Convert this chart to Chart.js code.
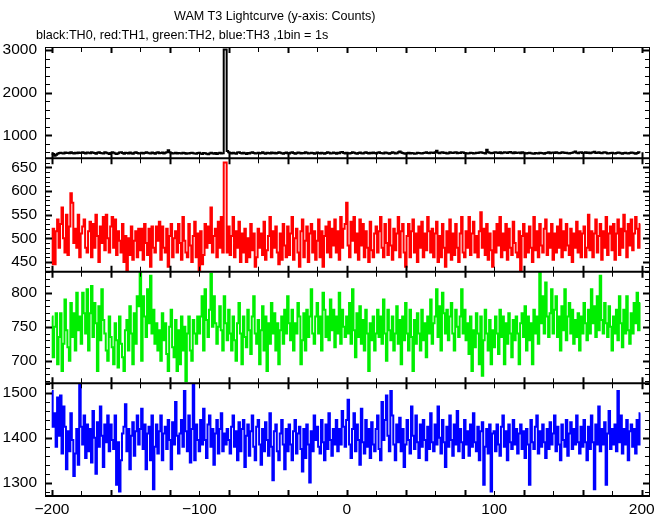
<!DOCTYPE html>
<html>
<head>
<meta charset="utf-8">
<script src="https://cdn.jsdelivr.net/npm/chart.js@4.4.1/dist/chart.umd.min.js"></script>
<style>
  html, body { margin: 0; padding: 0; background: #fff; }
  #wrap { position: relative; width: 669px; height: 515px; background: #fff; }
  #c { position: absolute; left: 0; top: 0; }
  .t { position: absolute; font-family: "Liberation Sans", Arial, sans-serif; font-size: 12.6px; line-height: 12.6px; color: #000; white-space: nowrap; }
</style>
</head>
<body>
<div id="wrap">
  <canvas id="c" width="669" height="515"></canvas>
  <div class="t" id="title" style="left:174px; top:10px;">WAM T3 Lightcurve (y-axis: Counts)</div>
  <div class="t" id="subtitle" style="left:36px; top:28.5px;">black:TH0, red:TH1, green:TH2, blue:TH3 ,1bin = 1s</div>
</div>
<script>
// ---- data (1 s bins, first bin at -200 s) ----
const binStart = -200;
const binWidth = 1;

const th0 = [
575,560,520,545,570,585,590,580,575,595,585,590,580,600,585,575,590,580,595,585,
590,600,585,575,595,590,580,600,590,585,570,590,605,585,580,575,600,590,580,560,
585,600,590,575,560,580,595,600,585,570,590,585,575,595,580,570,590,600,585,575,
580,590,575,585,600,590,580,575,595,585,570,590,600,580,585,595,575,590,600,650,
600,585,575,580,590,575,585,580,575,590,585,570,580,575,585,590,580,575,570,585,
590,575,560,585,580,570,555,575,590,580,570,585,560,580,590,575,580,3010,3010,630,
600,585,575,590,580,570,595,600,585,575,590,580,560,585,575,590,600,585,575,580,
590,575,585,600,580,570,590,585,575,595,580,590,575,585,600,590,580,570,585,595,
580,575,590,600,585,570,580,595,590,575,585,580,600,590,575,580,590,585,570,580,
595,585,575,590,580,570,585,600,590,575,580,595,585,570,590,580,600,610,585,575,
590,580,575,585,600,590,580,570,585,595,580,575,590,600,585,575,590,580,595,585,
575,590,600,585,580,575,595,590,580,570,585,600,590,575,580,600,620,595,585,575,
570,580,590,575,585,580,570,575,590,585,580,575,585,590,600,585,580,595,590,585,
600,640,590,580,595,600,585,590,575,580,600,590,585,595,600,580,590,585,600,595,
585,580,575,580,590,585,575,580,590,585,595,600,590,585,575,660,600,590,580,585,
595,600,590,585,600,580,590,600,595,585,600,610,590,580,600,585,590,595,580,600,
590,580,575,585,590,580,575,570,585,580,575,590,585,580,570,585,590,600,580,590,
595,585,600,590,580,585,600,595,585,590,580,575,585,590,600,620,590,580,595,600,
585,590,600,585,595,580,590,600,615,585,590,600,585,580,595,600,590,575,580,585,
590,580,575,585,595,590,580,570,585,590,580,575,585,595,590,580,570,585,600,595
];

const th1 = [
445,520,445,515,540,480,530,565,500,470,550,465,525,595,575,490,520,480,550,460,
510,525,540,480,470,515,535,460,530,480,550,505,450,525,490,545,475,550,500,470,
525,545,480,540,465,515,495,470,530,450,505,430,500,465,525,455,495,515,460,520,
475,520,455,530,490,465,520,440,525,480,470,525,495,535,455,525,480,470,520,440,
505,530,460,500,515,470,530,490,455,545,495,470,460,530,485,450,505,535,460,510,
430,515,445,465,530,480,525,490,565,470,505,520,460,535,480,545,470,660,660,470,
525,465,505,545,460,515,480,535,450,510,470,520,450,500,460,530,475,510,440,460,
520,480,510,465,535,455,475,505,545,460,515,480,525,470,445,510,455,530,485,460,
525,465,510,545,455,500,520,470,440,515,540,460,495,525,450,510,530,470,515,455,
495,540,460,515,440,505,525,470,535,460,520,485,540,470,515,455,545,480,520,530,
575,485,460,535,495,545,470,510,455,540,485,530,460,515,480,450,535,475,460,510,
525,470,515,545,480,460,530,490,465,540,485,455,520,475,510,545,460,515,530,470,
440,505,530,460,515,540,470,510,450,525,480,535,460,510,475,545,515,470,520,460,
510,535,450,505,460,530,480,440,515,470,540,455,510,465,530,480,450,510,545,470,
460,515,480,545,465,510,535,470,505,460,515,555,480,520,465,530,455,510,475,440,
515,470,530,485,545,460,510,475,530,455,520,480,465,535,490,470,460,515,432,505,
530,460,510,470,525,480,450,545,475,515,460,530,485,470,520,540,465,510,480,530,
455,510,470,525,480,540,460,515,475,530,485,465,520,450,510,480,535,470,515,460,
510,525,460,480,550,475,515,460,510,540,470,505,530,455,515,480,545,465,510,525,
475,530,455,510,540,465,520,480,550,515,460,530,485,540,475,510,545,520,480,530
];

const th2 = [
765,705,750,770,695,735,770,685,725,790,745,720,700,785,735,770,715,800,745,765,
725,800,770,740,805,715,770,810,735,785,755,685,780,730,805,760,740,715,700,765,
735,720,695,755,730,690,765,725,705,685,745,760,715,780,740,695,770,725,795,780,
830,700,795,765,735,805,755,825,740,775,725,755,715,745,700,770,730,755,710,685,
750,775,720,705,760,685,745,695,765,715,750,670,740,765,715,700,760,740,725,765,
740,765,795,715,805,760,735,775,828,750,795,755,725,750,780,745,715,795,755,730,
775,740,715,765,730,700,755,785,740,695,765,735,720,775,745,710,765,795,740,725,
760,695,745,780,715,765,685,755,725,785,740,770,715,755,695,745,765,725,775,740,
795,755,730,775,715,755,740,785,765,695,730,770,715,775,735,765,805,740,725,765,
785,740,765,715,800,775,735,765,730,790,745,775,720,765,740,800,725,775,750,735,
765,740,785,725,805,745,705,770,735,780,725,760,715,775,740,685,755,730,765,715,
740,775,735,765,725,790,740,700,775,745,730,765,715,740,780,725,760,695,765,730,
785,740,715,775,735,685,760,725,770,740,715,775,730,755,705,765,740,790,725,755,
765,805,735,780,715,800,770,740,775,730,765,785,740,715,775,750,735,765,805,740,
775,730,755,710,765,685,745,720,770,740,695,765,678,730,775,740,715,760,695,745,
720,765,740,710,775,735,765,695,755,725,770,740,705,760,730,765,740,695,755,770,
735,780,715,765,730,755,695,775,740,765,725,830,755,795,740,815,765,735,770,805,
740,775,795,735,765,715,780,745,805,730,765,785,740,775,725,760,735,770,715,765,
740,785,755,730,775,740,805,755,780,735,795,745,825,760,740,785,755,735,780,750,
715,765,740,775,730,795,755,720,775,740,795,745,725,770,740,785,755,800,745,785
];

const th3 = [
1505,1425,1455,1380,1490,1405,1495,1365,1470,1425,1330,1415,1370,1455,1395,1315,1365,1420,1340,1520,
1425,1385,1450,1355,1430,1370,1420,1345,1460,1400,1320,1435,1380,1470,1405,1335,1430,1390,1450,1370,
1430,1395,1375,1450,1295,1390,1280,1350,1410,1425,1475,1370,1420,1330,1405,1435,1360,1415,1450,1385,
1420,1465,1375,1430,1330,1410,1425,1350,1450,1285,1380,1430,1365,1415,1450,1350,1410,1425,1375,1440,
1395,1330,1435,1385,1480,1405,1365,1410,1440,1380,1505,1415,1370,1450,1345,1420,1520,1350,1430,1395,
1370,1440,1385,1465,1395,1355,1430,1450,1380,1420,1340,1410,1440,1365,1420,1455,1370,1410,1385,1420,
1395,1365,1425,1450,1380,1415,1350,1435,1370,1420,1440,1335,1405,1430,1360,1415,1450,1380,1350,1425,
1440,1385,1340,1420,1370,1435,1395,1360,1455,1380,1305,1415,1430,1370,1350,1410,1440,1385,1330,1420,
1370,1430,1385,1350,1415,1440,1365,1410,1425,1375,1325,1420,1355,1430,1385,1300,1415,1370,1450,1395,
1425,1380,1365,1440,1390,1350,1430,1375,1455,1395,1360,1420,1385,1440,1370,1420,1385,1460,1425,1380,
1440,1485,1385,1355,1420,1455,1370,1430,1395,1340,1465,1390,1365,1440,1380,1420,1355,1435,1385,1370,
1420,1450,1375,1350,1480,1395,1440,1495,1405,1370,1505,1450,1385,1350,1430,1390,1445,1370,1420,1335,
1385,1440,1395,1365,1470,1405,1375,1450,1390,1355,1430,1380,1440,1395,1350,1425,1375,1455,1390,1370,
1430,1385,1470,1400,1365,1440,1390,1335,1425,1380,1450,1395,1360,1430,1385,1460,1370,1420,1390,1355,
1440,1385,1415,1360,1430,1380,1455,1390,1370,1425,1350,1415,1435,1295,1380,1420,1365,1430,1280,1410,
1415,1370,1430,1385,1360,1425,1450,1380,1415,1350,1430,1390,1375,1440,1385,1420,1365,1410,1430,1375,
1415,1355,1420,1385,1295,1440,1390,1375,1425,1450,1365,1415,1380,1430,1390,1355,1420,1375,1435,1385,
1410,1450,1370,1425,1385,1350,1430,1395,1380,1440,1360,1410,1435,1375,1420,1385,1450,1390,1365,1425,
1380,1440,1390,1350,1425,1375,1450,1390,1285,1430,1385,1470,1370,1420,1385,1435,1295,1410,1460,1375,
1420,1385,1430,1370,1505,1390,1450,1365,1420,1385,1440,1350,1415,1430,1380,1420,1365,1440,1385,1455
];

// tick labels
const xTickLabels = [-200, -100, 0, 100, 200];
const th0Ticks = [1000, 2000, 3000];
const th1Ticks = [450, 500, 550, 600, 650];
const th2Ticks = [700, 750, 800];
const th3Ticks = [1300, 1400, 1500];
const minorSteps = [200, 10, 10, 20]; // TH0..TH3
const xMinorStep = 20;

// ---- chart ----
const seriesValues = [th0, th1, th2, th3];
const seriesColors = ['#000000', '#ff0000', '#00ee00', '#0000ff'];
const axisIds = ['y0', 'y1', 'y2', 'y3'];
const axisTicks = [th0Ticks, th1Ticks, th2Ticks, th3Ticks];
const axisRanges = [[461, 3070], [429.5, 669], [666.8, 831], [1270, 1522]];
const axisWeights = [111.3, 113.4, 111.6, 112.7];

function toPoints(vals) {
  return vals.map((v, i) => ({ x: binStart + i * binWidth, y: v }));
}

const datasets = seriesValues.map((vals, k) => ({
  data: toPoints(vals),
  yAxisID: axisIds[k],
  borderColor: seriesColors[k],
  borderWidth: 2,
  pointRadius: 0,
  stepped: 'middle',
  fill: false,
  tension: 0
}));

const tickFont = { family: '"Liberation Sans", Arial, sans-serif', size: 15.5 };

const scales = {
  x: {
    type: 'linear',
    position: 'bottom',
    min: -204.7,
    max: 205.6,
    grid: { display: false, drawTicks: false },
    border: { display: false },
    ticks: {
      color: '#000', font: tickFont, padding: 4, maxRotation: 0, autoSkip: false,
      callback: v => (v < 0 ? '\u2212' + Math.abs(v) : String(v))
    },
    afterBuildTicks: s => { s.ticks = xTickLabels.map(v => ({ value: v })); },
    afterFit: s => { s.height = 19; }
  }
};
// define bottom-to-top
for (let k = 3; k >= 0; k--) {
  scales[axisIds[k]] = {
    type: 'linear',
    position: 'left',
    stack: 'panels',
    stackWeight: axisWeights[k],
    weight: 4 - k,
    offset: false,
    min: axisRanges[k][0],
    max: axisRanges[k][1],
    grid: { display: false, drawTicks: false },
    border: { display: false },
    ticks: { color: '#000', font: tickFont, padding: 8, autoSkip: false, callback: v => String(v) },
    afterBuildTicks: (function (tk) { return s => { s.ticks = tk.map(v => ({ value: v })); }; })(axisTicks[k]),
    afterFit: s => { s.width = 45; }
  };
}

const framePlugin = {
  id: 'frame',
  afterDatasetsDraw(chart) {
    const ctx = chart.ctx;
    const ca = chart.chartArea;
    const xs = chart.scales.x;
    ctx.save();
    ctx.strokeStyle = '#000';
    ctx.lineCap = 'butt';
    // outer frame
    ctx.lineWidth = 1;
    ctx.strokeRect(ca.left + 0.5, ca.top + 0.5, ca.right - ca.left - 1, ca.bottom - ca.top - 1);
    axisIds.forEach((id, k) => {
      const s = chart.scales[id];
      // panel separator / bottom line
      ctx.lineWidth = 2;
      ctx.beginPath();
      ctx.moveTo(ca.left, s.bottom);
      ctx.lineTo(ca.right, s.bottom);
      ctx.stroke();
      // y ticks (major + minor), inward on both sides
      const step = minorSteps[k];
      const major = axisTicks[k];
      let v0 = Math.ceil(s.min / step) * step;
      for (let v = v0; v <= s.max; v += step) {
        const y = Math.round(s.getPixelForValue(v)) + 0.5;
        const isMajor = major.indexOf(v) >= 0;
        const len = isMajor ? 7 : 5;
        ctx.lineWidth = isMajor ? 2 : 1;
        ctx.beginPath();
        ctx.moveTo(ca.left, y); ctx.lineTo(ca.left + len, y);
        ctx.moveTo(ca.right, y); ctx.lineTo(ca.right - len, y);
        ctx.stroke();
      }
      // x ticks on top and bottom of each panel
      for (let v = -200; v <= 200; v += xMinorStep) {
        const x = Math.round(xs.getPixelForValue(v)) + 0.5;
        const bold = ((v + 200) % 40) === 0;
        ctx.lineWidth = bold ? 2 : 1;
        const len = bold ? 6 : 5;
        ctx.beginPath();
        ctx.moveTo(x, s.top); ctx.lineTo(x, s.top + len);
        ctx.moveTo(x, s.bottom); ctx.lineTo(x, s.bottom - len);
        ctx.stroke();
      }
    });
    ctx.restore();
  }
};

new Chart(document.getElementById('c'), {
  type: 'line',
  data: { datasets },
  options: {
    responsive: false,
    devicePixelRatio: 1,
    animation: false,
    layout: { padding: { top: 47, right: 19, bottom: 0, left: 0 } },
    plugins: { legend: { display: false }, title: { display: false }, tooltip: { enabled: false } },
    scales
  },
  plugins: [framePlugin]
});
</script>
</body>
</html>
